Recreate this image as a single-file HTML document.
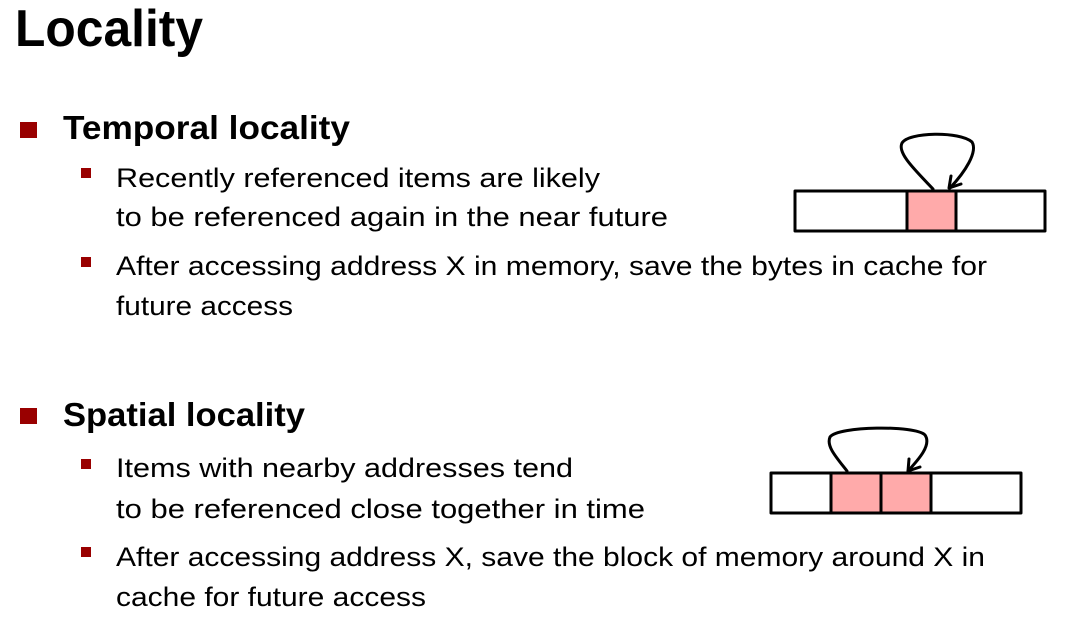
<!DOCTYPE html>
<html><head><meta charset="utf-8"><style>
html,body{margin:0;padding:0;background:#fff;width:1090px;height:618px;overflow:hidden}
text{font-family:"Liberation Sans",sans-serif;fill:#000}
.b{font-weight:bold}
</style></head><body>
<svg width="1090" height="618" viewBox="0 0 1090 618" xmlns="http://www.w3.org/2000/svg">
<text x="15" y="46" class="b" font-size="52" textLength="188" lengthAdjust="spacingAndGlyphs">Locality</text>

<rect x="20" y="122" width="17" height="16" fill="#990000"/>
<text x="63" y="139" class="b" font-size="33" textLength="287" lengthAdjust="spacingAndGlyphs">Temporal locality</text>
<rect x="81" y="168" width="10" height="10" fill="#990000"/>
<text x="116" y="187" font-size="27" textLength="484" lengthAdjust="spacingAndGlyphs">Recently referenced items are likely</text>
<text x="116" y="226" font-size="27" textLength="552" lengthAdjust="spacingAndGlyphs">to be referenced again in the near future</text>
<rect x="81" y="257" width="10" height="10" fill="#990000"/>
<text x="116" y="275" font-size="27" textLength="871" lengthAdjust="spacingAndGlyphs">After accessing address X in memory, save the bytes in cache for</text>
<text x="116" y="315" font-size="27" textLength="177" lengthAdjust="spacingAndGlyphs">future access</text>

<rect x="20" y="408" width="17" height="16" fill="#990000"/>
<text x="63" y="426" class="b" font-size="33" textLength="242" lengthAdjust="spacingAndGlyphs">Spatial locality</text>
<rect x="81" y="459" width="10" height="10" fill="#990000"/>
<text x="116" y="477" font-size="27" textLength="457" lengthAdjust="spacingAndGlyphs">Items with nearby addresses tend</text>
<text x="116" y="518" font-size="27" textLength="529" lengthAdjust="spacingAndGlyphs">to be referenced close together in time</text>
<rect x="81" y="547" width="10" height="10" fill="#990000"/>
<text x="116" y="566" font-size="27" textLength="869" lengthAdjust="spacingAndGlyphs">After accessing address X, save the block of memory around X in</text>
<text x="116" y="606" font-size="27" textLength="310" lengthAdjust="spacingAndGlyphs">cache for future access</text>

<g stroke="#000" stroke-width="3" fill="none" stroke-linejoin="round" stroke-linecap="round">
<rect x="795" y="191" width="250" height="40" fill="#fff"/>
<rect x="907" y="191" width="49" height="40" fill="#ffaaaa"/>
<path d="M933 189 C915 170 897 153 902 143 C908 132 960 131 972 142 C978 152 965 172 950 188"/>
<path d="M951 176 L949 188 L961 184"/>
<rect x="771" y="473" width="250" height="40" fill="#fff"/>
<rect x="831" y="473" width="50" height="40" fill="#ffaaaa"/>
<rect x="881" y="473" width="50" height="40" fill="#ffaaaa"/>
<path d="M847 471 C836 457 826 446 830 437 C838 426 915 425 925 435 C932 445 918 460 908 471"/>
<path d="M909 459 L908 471 L920 467"/>
</g>
</svg>
</body></html>
